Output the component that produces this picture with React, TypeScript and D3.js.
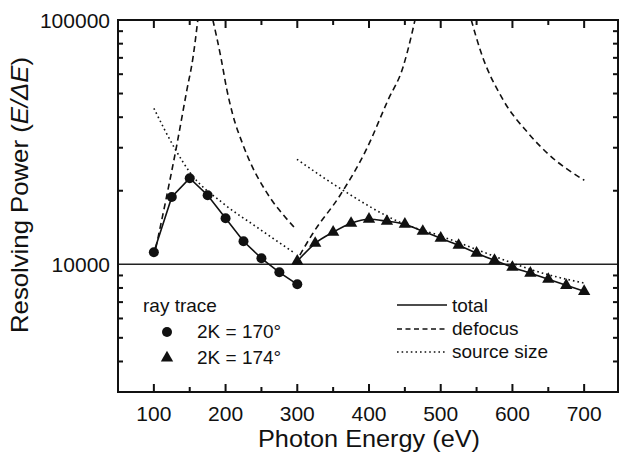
import React from "react";
import { scaleLinear, scaleLog, line, curveLinear, curveMonotoneX, symbol, symbolTriangle } from "d3";

// ray trace results
const energy170 = [100, 125, 150, 175, 200, 225, 250, 275, 300];
const ray170 = [11200, 18850, 22500, 19170, 15440, 12420, 10580, 9270, 8280];
const energy174 = [300, 325, 350, 375, 400, 425, 450, 475, 500, 525, 550, 575, 600, 625, 650, 675, 700];
const ray174 = [10290, 12190, 13530, 14720, 15290, 15000, 14590, 13650, 12780, 11960, 11100, 10380, 9720, 9190, 8680, 8200, 7750];

// defocus curves (two branches per grating angle), [eV, E/dE]
const defocus170a = [[102.7, 11630], [116.7, 18290], [130.6, 29300], [146, 51600], [154.5, 70000], [161.3, 100000]];
const defocus170b = [[182.3, 100000], [193.6, 70000], [201.7, 52000], [210, 41000], [224, 31000], [238, 24800], [250.6, 21200], [265, 18200], [280, 16000], [296.7, 14050]];
const defocus174a = [[296.6, 10040], [321.8, 13400], [359.7, 19170], [395.8, 29300], [426.5, 47000], [447.4, 64100], [460, 88500], [464.1, 100000]];
const defocus174b = [[542.6, 100000], [555.1, 75300], [587.2, 47000], [622.1, 34400], [648.6, 28500], [700.2, 22070]];

// source size contribution
const source170 = [[100, 43500], [130.6, 29300], [150.2, 23800], [196.2, 17800], [243.7, 14180], [296.7, 11090]];
const source174 = [[299.5, 26900], [363.7, 20100], [443.2, 14860], [500, 13050], [550, 11500], [600.9, 10090], [628.8, 9450], [701.4, 8360]];

const xTicks = [100, 200, 300, 400, 500, 600, 700];
const xMinor = [150, 250, 350, 450, 550, 650];
const yTicks = [10000, 100000];
const yMinor = [4000, 5000, 6000, 7000, 8000, 9000, 20000, 30000, 40000, 50000, 60000, 70000, 80000, 90000];

const W = 619;
const H = 457;
const left = 118, right = 618, top = 20, bottom = 392;
const font = "'Liberation Sans', Arial, Helvetica, sans-serif";
const ink = "#111";

export default function App() {
  const x = scaleLinear().domain([50, 747.2]).range([left, right]);
  const y = scaleLog().domain([3000, 100000]).range([bottom, top]);

  const smooth = line<number[]>().x(d => x(d[0])).y(d => y(d[1])).curve(curveMonotoneX);
  const straight = line<number[]>().x(d => x(d[0])).y(d => y(d[1])).curve(curveLinear);

  const pts170 = energy170.map((e, i) => [e, ray170[i]]);
  const pts174 = energy174.map((e, i) => [e, ray174[i]]);
  const tri = symbol().type(symbolTriangle).size(66)() || "";

  const dash = "6,4";
  const dot = "1.6,3";

  return (
    <svg width={W} height={H} style={{ position: "absolute", left: 0, top: 0, background: "#fff" }} fontFamily={font}>
      <defs>
        <clipPath id="plot">
          <rect x={left} y={top} width={right - left} height={bottom - top} />
        </clipPath>
      </defs>

      {/* 10000 reference line */}
      <line x1={left} x2={right} y1={y(10000)} y2={y(10000)} stroke="#222" strokeWidth={1.5} />

      <g clipPath="url(#plot)" fill="none" stroke={ink}>
        {[defocus170a, defocus170b, defocus174a, defocus174b].map((d, i) => (
          <path key={"d" + i} d={smooth(d) || ""} strokeWidth={1.6} strokeDasharray={dash} />
        ))}
        {[source170, source174].map((d, i) => (
          <path key={"s" + i} d={smooth(d) || ""} strokeWidth={1.6} strokeDasharray={dot} />
        ))}
        <path d={straight(pts170) || ""} strokeWidth={1.6} />
        <path d={smooth(pts174) || ""} strokeWidth={1.6} />
      </g>

      {pts170.map((p, i) => (
        <circle key={"c" + i} cx={x(p[0])} cy={y(p[1])} r={5} fill={ink} />
      ))}
      {pts174.map((p, i) => (
        <path key={"t" + i} d={tri} transform={`translate(${x(p[0])},${y(p[1])})`} fill={ink} />
      ))}

      {/* frame */}
      <rect x={left} y={top} width={right - left} height={bottom - top} fill="none" stroke={ink} strokeWidth={2} />

      {/* inward ticks on all four sides */}
      {xTicks.map(t => (
        <g key={"xt" + t} fill={ink}>
          <rect x={x(t) - 1} y={bottom - 8} width={2} height={8} />
          <rect x={x(t) - 1} y={top} width={2} height={8} />
        </g>
      ))}
      {xMinor.map(t => (
        <g key={"xm" + t} fill={ink}>
          <rect x={x(t) - 1} y={bottom - 5} width={2} height={5} />
          <rect x={x(t) - 1} y={top} width={2} height={5} />
        </g>
      ))}
      {yMinor.map(t => (
        <g key={"ym" + t} fill={ink}>
          <rect x={left} y={y(t) - 1} width={5} height={2} />
          <rect x={right - 5} y={y(t) - 1} width={5} height={2} />
        </g>
      ))}

      {xTicks.map(t => (
        <text key={"xl" + t} x={x(t)} y={421} textAnchor="middle" fontSize={21} fill={ink}>{t}</text>
      ))}
      {yTicks.map(t => (
        <text key={"yl" + t} x={110} y={y(t)} dy="0.36em" textAnchor="end" fontSize={21} fill={ink}>{t}</text>
      ))}

      <text x={369} y={447} textAnchor="middle" fontSize={24} fill={ink} textLength={222} lengthAdjust="spacingAndGlyphs">
        Photon Energy (eV)
      </text>
      <text transform="translate(28,195) rotate(-90)" textAnchor="middle" fontSize={24} fill={ink} textLength={276} lengthAdjust="spacingAndGlyphs">
        Resolving Power (<tspan fontStyle="italic">E</tspan><tspan fontStyle="italic">/ΔE</tspan>)
      </text>

      {/* legend: ray trace */}
      <text x={143} y={312} fontSize={19} fill={ink}>ray trace</text>
      <circle cx={167} cy={332} r={5} fill={ink} />
      <text x={197} y={338} fontSize={19} fill={ink}>2K = 170°</text>
      <path d={tri} transform="translate(167,358)" fill={ink} />
      <text x={197} y={364} fontSize={19} fill={ink}>2K = 174°</text>

      {/* legend: contributions */}
      <line x1={397} x2={447} y1={305} y2={305} stroke={ink} strokeWidth={1.6} />
      <line x1={397} x2={447} y1={329} y2={329} stroke={ink} strokeWidth={1.6} strokeDasharray="5,3.5" />
      <line x1={397} x2={447} y1={352} y2={352} stroke={ink} strokeWidth={1.6} strokeDasharray={dot} />
      <text x={452} y={312} fontSize={19} fill={ink}>total</text>
      <text x={452} y={335} fontSize={19} fill={ink}>defocus</text>
      <text x={452} y={358} fontSize={19} fill={ink}>source size</text>
    </svg>
  );
}
